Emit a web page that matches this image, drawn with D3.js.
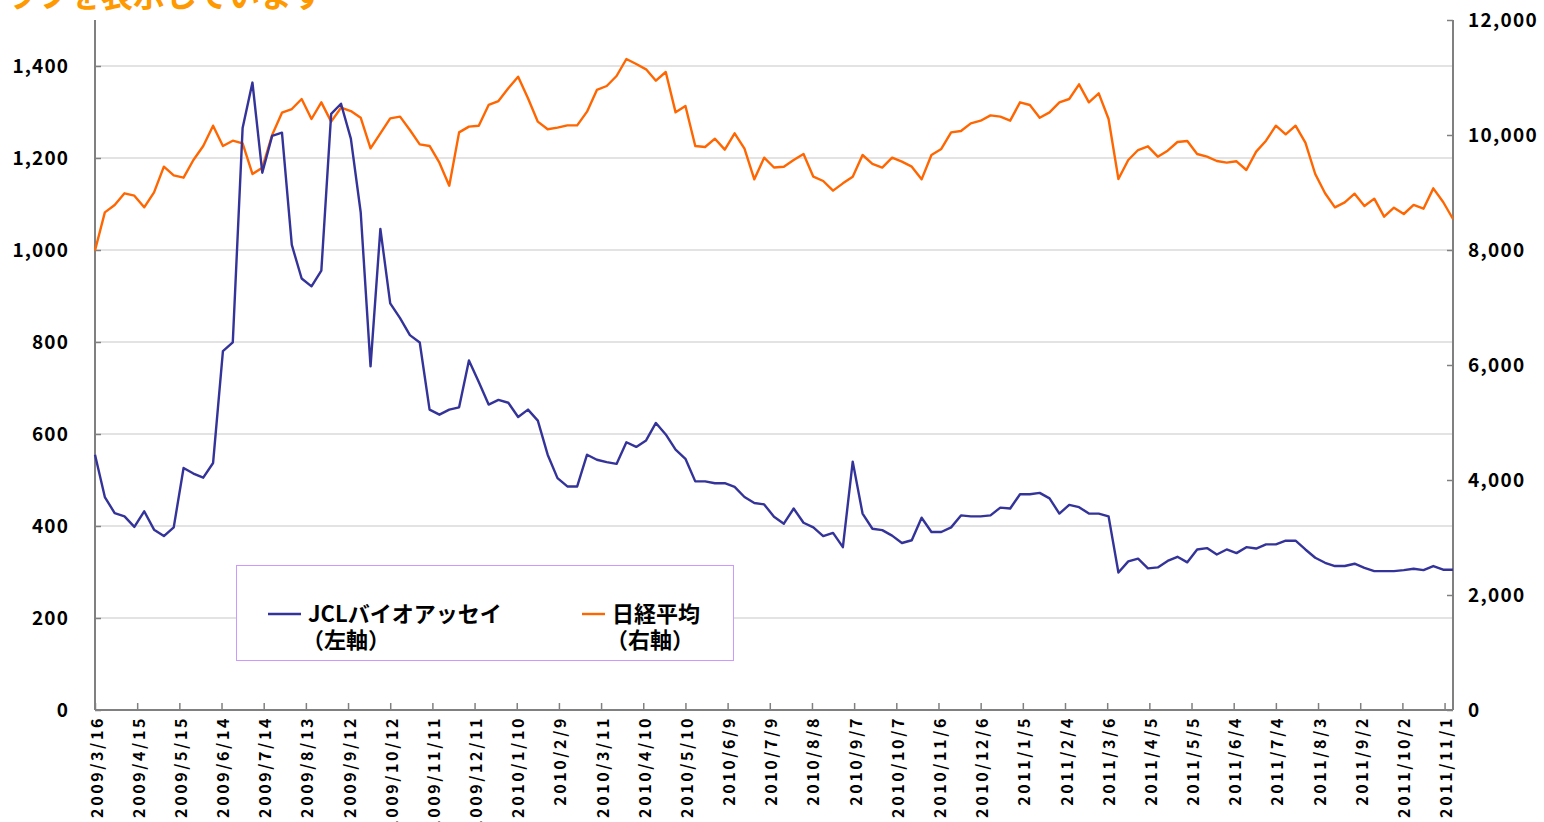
<!DOCTYPE html>
<html>
<head>
<meta charset="utf-8">
<script src="https://cdn.jsdelivr.net/npm/d3@7"></script>
<style>
  body { margin: 0; background: #fff; }
  svg { display: block; }
  .tick text { font-family: "Noto Sans CJK JP", "DejaVu Sans", sans-serif; font-weight: bold; fill: #000; }
</style>
</head>
<body>
<svg id="chart" width="1544" height="822"></svg>
<script>
// Weekly observations starting on this date
const startDate = "2009/3/16";

// JCLバイオアッセイ (left axis)
const jclValues = [
  555, 463, 428, 421, 398, 432, 392, 378, 397, 526,
  514, 505, 537, 780, 799, 1265, 1364, 1168, 1248, 1255,
  1011, 938, 921, 955, 1296, 1318, 1242, 1082, 747, 1046,
  884, 852, 815, 799, 653, 642, 653, 658, 760, 713,
  664, 674, 668, 637, 653, 629, 555, 504, 486, 486,
  555, 544, 539, 535, 582, 572, 586, 624, 599, 566,
  546, 497, 497, 493, 493, 485, 463, 450, 447, 420,
  405, 438, 407, 397, 378, 385, 354, 540, 427, 394,
  391, 379, 363, 369, 418, 387, 387, 397, 423, 421,
  421, 423, 440, 438, 469, 469, 472, 460, 427, 446,
  441, 427, 427, 421, 299, 323, 329, 308, 310, 324,
  333, 321, 349, 352, 338, 349, 341, 354, 351, 360,
  360, 368, 368, 349, 331, 320, 313, 313, 318, 309,
  302, 302, 302, 304, 307, 304, 313, 305, 305
];

// 日経平均 (right axis)
const nikkeiValues = [
  7990, 8655, 8783, 8986, 8945, 8742, 9003, 9449, 9299, 9258,
  9565, 9809, 10162, 9809, 9901, 9855, 9322, 9432, 10000, 10388,
  10452, 10626, 10278, 10568, 10232, 10475, 10417, 10301, 9768, 10029,
  10290, 10319, 10087, 9838, 9809, 9519, 9118, 10046, 10145, 10162,
  10522, 10591, 10812, 11014, 10638, 10232, 10099, 10128, 10168, 10168,
  10406, 10783, 10852, 11026, 11322, 11235, 11142, 10945, 11096, 10394,
  10504, 9809, 9791, 9936, 9745, 10029, 9762, 9229, 9606, 9435,
  9449, 9565, 9670, 9275, 9200, 9032, 9159, 9275, 9652, 9496,
  9432, 9606, 9536, 9449, 9229, 9652, 9757, 10046, 10070, 10203,
  10249, 10342, 10319, 10249, 10568, 10522, 10301, 10394, 10568, 10626,
  10881, 10568, 10725, 10278, 9235, 9565, 9739, 9803, 9623, 9727,
  9878, 9896, 9670, 9623, 9548, 9519, 9543, 9391, 9710, 9901,
  10162, 10012, 10162, 9867, 9322, 8986, 8742, 8829, 8980, 8765,
  8893, 8580, 8736, 8626, 8783, 8719, 9072, 8835, 8539
];

// x axis tick labels
const xTickLabels = [
  "2009/3/16", "2009/4/15", "2009/5/15", "2009/6/14", "2009/7/14", "2009/8/13",
  "2009/9/12", "2009/10/12", "2009/11/11", "2009/12/11", "2010/1/10", "2010/2/9",
  "2010/3/11", "2010/4/10", "2010/5/10", "2010/6/9", "2010/7/9", "2010/8/8",
  "2010/9/7", "2010/10/7", "2010/11/6", "2010/12/6", "2011/1/5", "2011/2/4",
  "2011/3/6", "2011/4/5", "2011/5/5", "2011/6/4", "2011/7/4", "2011/8/3",
  "2011/9/2", "2011/10/2", "2011/11/1"
];
const leftTicks = [0, 200, 400, 600, 800, 1000, 1200, 1400];
const rightTicks = [0, 2000, 4000, 6000, 8000, 10000, 12000];

const seriesNames = ["JCLバイオアッセイ", "日経平均"];
const axisNotes = ["（左軸）", "（右軸）"];

let parseDate = d3.timeParse("%Y/%m/%d");
let start = parseDate(startDate);
let dates = jclValues.map(function(d, i) { return d3.timeDay.offset(start, 7 * i); });

let svg = d3.select("#chart");
let plotLeft = 95, plotRight = 1453, plotTop = 20, plotBottom = 710;

let x = d3.scaleTime()
    .domain([start, dates[dates.length - 1]])
    .range([plotLeft, plotRight]);
let yL = d3.scaleLinear().domain([0, 1500]).range([plotBottom, plotTop]);
let yR = d3.scaleLinear().domain([0, 12000]).range([plotBottom, plotTop]);

// Title text cut off at the top edge
svg.append("text")
    .attr("x", -27)
    .attr("y", 7)
    .style("font-family", "Noto Sans CJK JP")
    .style("font-weight", "bold")
    .style("font-size", "32px")
    .style("fill", "#ff9900")
    .text("グラフを表示しています");

// Gridlines from the left axis
svg.selectAll(".grid").data(leftTicks.slice(1))
    .enter().append("line")
    .attr("class", "grid")
    .attr("x1", plotLeft).attr("x2", plotRight)
    .attr("y1", function(d) { return yL(d); })
    .attr("y2", function(d) { return yL(d); })
    .style("stroke", "#c8c8c8")
    .style("stroke-width", 1.2);

// Left axis
let leftAxis = svg.append("g")
    .attr("transform", "translate(" + plotLeft + ",0)")
    .call(d3.axisLeft(yL).tickValues(leftTicks).tickFormat(d3.format(",")).tickSize(-6).tickPadding(26));
leftAxis.select(".domain").attr("d", "M0," + plotTop + "V" + plotBottom);

// Right axis
let rightAxis = svg.append("g")
    .attr("transform", "translate(" + plotRight + ",0)")
    .call(d3.axisRight(yR).tickValues(rightTicks).tickFormat(d3.format(",")).tickSize(-6).tickPadding(15));
rightAxis.select(".domain").attr("d", "M0," + plotTop + "V" + plotBottom);

// Bottom axis
let xAxis = svg.append("g")
    .attr("transform", "translate(0," + plotBottom + ")")
    .call(d3.axisBottom(x)
        .tickValues(xTickLabels.map(parseDate))
        .tickFormat(function(d, i) { return xTickLabels[i]; })
        .tickSize(-7));
xAxis.select(".domain").attr("d", "M" + plotLeft + ",0H" + plotRight);
xAxis.selectAll(".tick text")
    .attr("transform", "rotate(-90)")
    .attr("text-anchor", "end")
    .attr("dominant-baseline", "central")
    .attr("x", -6)
    .attr("y", 0)
    .attr("dy", null)
    .style("font-size", "16px")
    .style("letter-spacing", "2.6px");

svg.selectAll(".tick line").style("stroke", "#808080").style("stroke-width", 1.5);
svg.selectAll(".domain").style("stroke", "#808080").style("stroke-width", 2);
leftAxis.selectAll(".tick text").style("font-size", "19px").style("letter-spacing", "1.1px");
rightAxis.selectAll(".tick text").style("font-size", "19px").style("letter-spacing", "1.3px");

// Lines
let jclLine = d3.line()
    .x(function(d, i) { return x(dates[i]); })
    .y(function(d) { return yL(d); });
let nikkeiLine = d3.line()
    .x(function(d, i) { return x(dates[i]); })
    .y(function(d) { return yR(d); });

svg.append("path")
    .datum(nikkeiValues)
    .attr("d", nikkeiLine)
    .style("fill", "none")
    .style("stroke", "#ff6600")
    .style("stroke-width", 2.4)
    .style("stroke-linejoin", "round");

svg.append("path")
    .datum(jclValues)
    .attr("d", jclLine)
    .style("fill", "none")
    .style("stroke", "#333399")
    .style("stroke-width", 2.4)
    .style("stroke-linejoin", "round");

// Legend
let legend = svg.append("g");
legend.append("rect")
    .attr("x", 236.5).attr("y", 565.5)
    .attr("width", 497).attr("height", 95)
    .style("fill", "#fff")
    .style("stroke", "#cc99ff")
    .style("stroke-width", 1);

let legendColors = ["#333399", "#ff6600"];
let legendX = [268, 582];
let legendLineW = [33, 23];

seriesNames.forEach(function(name, i) {
    legend.append("line")
        .attr("x1", legendX[i]).attr("x2", legendX[i] + legendLineW[i])
        .attr("y1", 614).attr("y2", 614)
        .style("stroke", legendColors[i])
        .style("stroke-width", 2.4);
    legend.append("text")
        .attr("x", legendX[i] + legendLineW[i] + 7)
        .attr("y", 622)
        .style("font-family", "Noto Sans CJK JP")
        .style("font-weight", "bold")
        .style("font-size", "22px")
        .style("fill", "#000")
        .text(name);
    legend.append("text")
        .attr("x", legendX[i] + legendLineW[i] + 1)
        .attr("y", 648)
        .style("font-family", "Noto Sans CJK JP")
        .style("font-weight", "bold")
        .style("font-size", "22px")
        .style("fill", "#000")
        .text(axisNotes[i]);
});
</script>
</body>
</html>
